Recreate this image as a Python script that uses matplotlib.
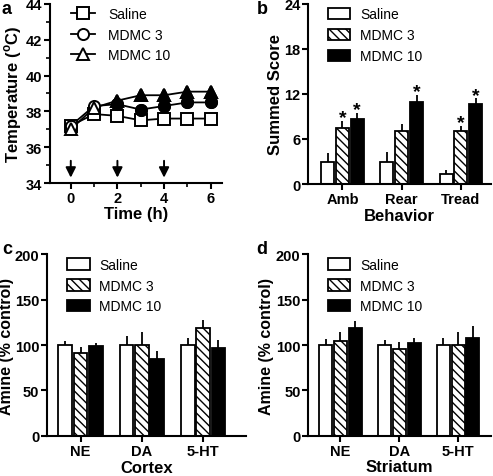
import numpy as np
import matplotlib.pyplot as plt

plt.rcParams['font.family'] = ['Liberation Sans', 'DejaVu Sans']

groups = ['Saline', 'MDMC 3', 'MDMC 10']

# panel a - temperature
time_h = [0, 1, 2, 3, 4, 5, 6]
temp_sal = [37.2, 37.85, 37.75, 37.5, 37.6, 37.6, 37.6]
temp_sal_err = [0.15, 0.15, 0.15, 0.15, 0.1, 0.1, 0.1]
temp_m3 = [37.2, 38.3, 38.4, 38.1, 38.3, 38.5, 38.5]
temp_m3_err = [0.15, 0.15, 0.15, 0.2, 0.2, 0.2, 0.2]
temp_m10 = [37.0, 38.2, 38.6, 38.9, 38.9, 39.1, 39.1]
temp_m10_err = [0.15, 0.15, 0.2, 0.2, 0.2, 0.2, 0.2]
filled_from = 2
inject_times = [0, 2, 4]

# panel b - behavior
behav = ['Amb', 'Rear', 'Tread']
beh_vals = [[3.0, 3.0, 1.3], [7.4, 7.0, 7.0], [8.6, 10.9, 10.6]]
beh_err = [[1.2, 1.3, 0.6], [1.0, 1.0, 0.7], [0.9, 1.0, 0.8]]
beh_star = [[False, False, False], [True, False, True], [True, True, True]]

# panels c, d - amines
amines = ['NE', 'DA', '5-HT']
ctx_vals = [[100, 100, 100], [91, 100, 119], [99, 85, 97]]
ctx_err = [[5, 10, 8], [7, 14, 9], [3, 8, 9]]
str_vals = [[100, 100, 100], [105, 96, 100], [119, 102, 108]]
str_err = [[7, 6, 8], [9, 7, 14], [7, 6, 13]]

fig = plt.figure(figsize=(4.93, 4.77), dpi=100)
axa = fig.add_axes([0.101, 0.614, 0.35, 0.376])
axb = fig.add_axes([0.625, 0.612, 0.37, 0.378])
axc = fig.add_axes([0.095, 0.084, 0.404, 0.381])
axd = fig.add_axes([0.625, 0.084, 0.37, 0.381])

labfont = dict(fontsize=12, fontweight='bold')
LEGFS = 10


def style(ax):
	ax.spines['top'].set_visible(False)
	ax.spines['right'].set_visible(False)
	ax.spines['left'].set_linewidth(1.5)
	ax.spines['bottom'].set_linewidth(1.5)
	ax.tick_params(width=1.5, length=4, direction='out', pad=1.5)
	ax.tick_params(which='minor', width=1.2, length=3)
	for t in ax.get_xticklabels() + ax.get_yticklabels():
		t.set_fontweight('bold')
		t.set_fontsize(10.5)


# ---- a
series = [(temp_sal, temp_sal_err, 's'), (temp_m3, temp_m3_err, 'o'), (temp_m10, temp_m10_err, '^')]
for i, (y, e, m) in enumerate(series):
	axa.errorbar(time_h, y, yerr=e, color='k', lw=1.3, capsize=0, elinewidth=1, zorder=2)
	axa.plot(time_h, y, m, mfc='white', mec='k', ms=8, mew=1.4, zorder=3, label=groups[i])
	if i > 0:
		axa.plot(time_h[filled_from:], y[filled_from:], m, mfc='k', mec='k', ms=8, mew=1.4, zorder=4)
for t in inject_times:
	axa.annotate('', xy=(t, 34.15), xytext=(t, 35.4),
		arrowprops=dict(arrowstyle='-|>,head_width=0.3,head_length=0.6', color='k', lw=1.4))
axa.set_xlim(-0.9, 6.5)
axa.set_ylim(34, 44)
axa.set_xticks([0, 2, 4, 6])
axa.set_xticks([1, 3, 5], minor=True)
axa.set_yticks(np.arange(34, 45, 2))
axa.set_yticks(np.arange(35, 44, 2), minor=True)
axa.set_xlabel('Time (h)', **labfont, labelpad=1)
axa.set_ylabel('Temperature ($^{\\mathregular{o}}$C)', **labfont, labelpad=1)
handles = [plt.Line2D([0, 1], [0, 0], color='k', lw=1.3, marker=m, mfc='white', mec='k', ms=8, mew=1.4)
	for m in ['s', 'o', '^']]
axa.legend(handles, groups, loc='upper left', bbox_to_anchor=(0.05, 1.05), frameon=False,
	fontsize=LEGFS, handlelength=1.7, labelspacing=0.45, handletextpad=1.0)
style(axa)


def bars(ax, vals, errs, cats, ylim, yticks, ylabel, xlabel, stars=None, starpad=0.0, xpad=0, ylfs=12, ypad=1):
	x = np.arange(len(cats))
	w = 0.22
	offs = [-w - 0.03, 0, w + 0.03]
	fills = ['white', 'white', 'black']
	hatches = ['', '\\\\\\\\', '']
	for g in range(3):
		ax.bar(x + offs[g], vals[g], w, color=fills[g], edgecolor='k', lw=1.3,
			hatch=hatches[g], label=groups[g], zorder=2)
		ax.errorbar(x + offs[g], vals[g], yerr=[np.zeros(3), errs[g]], fmt='none',
			ecolor='k', elinewidth=1.3, capsize=0, zorder=1)
		if stars is not None:
			for j in range(3):
				if stars[g][j]:
					ax.text(x[j] + offs[g], vals[g][j] + errs[g][j] + starpad, '*',
						ha='center', va='bottom', fontsize=14, fontweight='bold')
	ax.set_xticks(x)
	ax.set_xticklabels(cats)
	ax.set_ylim(*ylim)
	ax.set_yticks(yticks)
	ax.set_xlabel(xlabel, **labfont, labelpad=xpad)
	ax.set_ylabel(ylabel, fontsize=ylfs, fontweight='bold', labelpad=ypad)
	ax.legend(loc='upper left', bbox_to_anchor=(0.04, 1.05), frameon=False, fontsize=LEGFS,
		handlelength=1.6, handleheight=0.9, labelspacing=0.5, handletextpad=0.7)
	style(ax)


bars(axb, beh_vals, beh_err, behav, (0, 24), [0, 6, 12, 18, 24], 'Summed Score', 'Behavior',
	stars=beh_star, starpad=-0.7, xpad=2)
axb.set_xlim(-0.58, 2.5)
bars(axc, ctx_vals, ctx_err, amines, (0, 200), [0, 50, 100, 150, 200], 'Amine (% control)', 'Cortex',
	xpad=2, ylfs=11.5, ypad=0.5)
axc.set_xlim(-0.55, 2.7)
bars(axd, str_vals, str_err, amines, (0, 200), [0, 50, 100, 150, 200], 'Amine (% control)', 'Striatum',
	xpad=1, ylfs=11.5)
axd.set_xlim(-0.55, 2.55)

for lab, xy in [('a', (0.004, 0.998)), ('b', (0.52, 0.998)), ('c', (0.004, 0.495)), ('d', (0.52, 0.495))]:
	fig.text(xy[0], xy[1], lab, fontsize=13, fontweight='bold', va='top', ha='left')

fig.savefig('out.png', dpi=100)
